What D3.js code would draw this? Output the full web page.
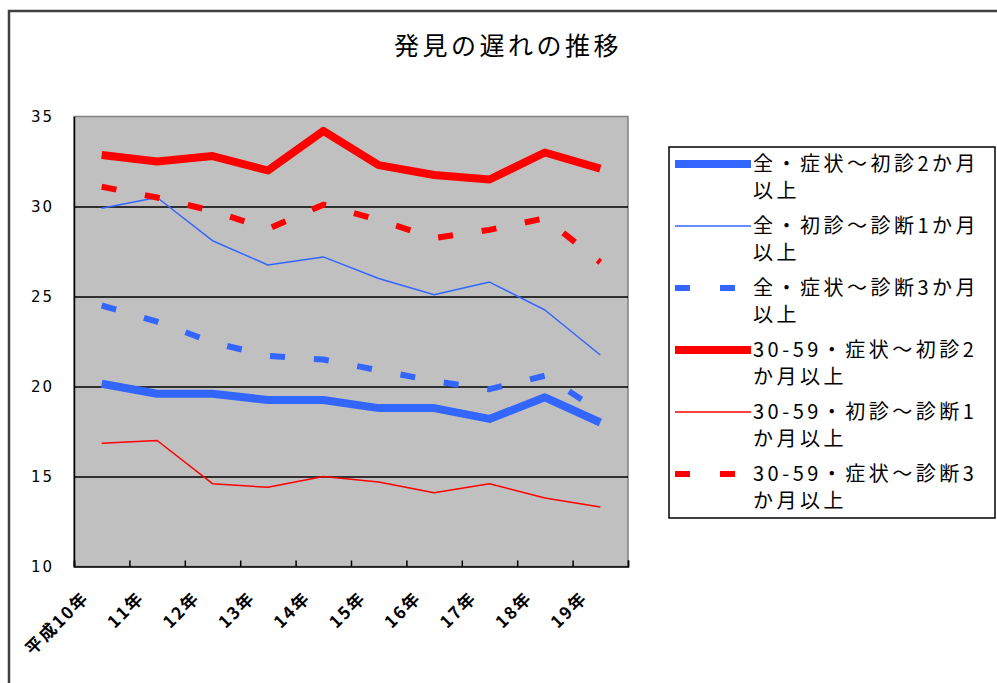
<!DOCTYPE html>
<html>
<head>
<meta charset="utf-8">
<script src="https://cdn.jsdelivr.net/npm/d3@7"></script>
<style>
  html, body { margin: 0; padding: 0; background: #fff; }
  svg { display: block; }
  text { font-family: "Noto Sans CJK JP", "Noto Sans", sans-serif; fill: #000; }
</style>
</head>
<body>
<svg id="chart" width="997" height="683"></svg>
<script>
// ---- data ----
const title = "発見の遅れの推移";
const categories = ["平成10年", "11年", "12年", "13年", "14年", "15年", "16年", "17年", "18年", "19年"];
const yTicks = [10, 15, 20, 25, 30, 35];
const gridValues = [15, 20, 25, 30];

const seriesNames = [
  "全・症状～初診2か月以上",
  "全・初診～診断1か月以上",
  "全・症状～診断3か月以上",
  "30-59・症状～初診2か月以上",
  "30-59・初診～診断1か月以上",
  "30-59・症状～診断3か月以上"
];
const legendLines = [
  ["全・症状～初診2か月", "以上"],
  ["全・初診～診断1か月", "以上"],
  ["全・症状～診断3か月", "以上"],
  ["30-59・症状～初診2", "か月以上"],
  ["30-59・初診～診断1", "か月以上"],
  ["30-59・症状～診断3", "か月以上"]
];
const allSymptomToVisit2m   = [20.15, 19.6, 19.6, 19.25, 19.25, 18.8, 18.8, 18.2, 19.4, 18.0];
const allVisitToDiag1m      = [29.9, 30.5, 28.1, 26.75, 27.2, 26.0, 25.1, 25.8, 24.25, 21.75];
const allSymptomToDiag3m    = [24.5, 23.6, 22.45, 21.7, 21.5, 20.9, 20.3, 19.85, 20.6, 18.6];
const age3059SymptomToVisit2m = [32.86, 32.5, 32.8, 32.0, 34.2, 32.3, 31.75, 31.5, 33.0, 32.1];
const age3059VisitToDiag1m    = [16.85, 17.0, 14.6, 14.4, 15.0, 14.7, 14.1, 14.6, 13.8, 13.3];
const age3059SymptomToDiag3m  = [31.1, 30.5, 29.75, 28.75, 30.1, 29.25, 28.25, 28.7, 29.35, 26.9];

const seriesValues = [
  allSymptomToVisit2m, allVisitToDiag1m, allSymptomToDiag3m,
  age3059SymptomToVisit2m, age3059VisitToDiag1m, age3059SymptomToDiag3m
];

// ---- styles ----
const BLUE = "#3366ff", RED = "#ff0000";
const styles = [
  { color: BLUE, width: 8, dash: null },
  { color: BLUE, width: 1.5, dash: null },
  { color: BLUE, width: 6, dash: "15,29" },
  { color: RED, width: 8, dash: null },
  { color: RED, width: 1.5, dash: null },
  { color: RED, width: 6, dash: "15,29" }
];

const svg = d3.select("#chart");

// outer frame
svg.append("rect").attr("x", 9).attr("y", 11).attr("width", 1000).attr("height", 700)
  .attr("fill", "#fff").attr("stroke", "#404040").attr("stroke-width", 2.5);

// title
svg.append("text").attr("x", 508).attr("y", 55).attr("text-anchor", "middle")
  .style("font-size", "25px").style("letter-spacing", "3.5px").text(title);

const plot = { left: 74, right: 628, top: 116.5, bottom: 566.5 };
const x = d3.scaleBand().domain(categories).range([plot.left, plot.right]).padding(0);
const xi = d3.scaleLinear().domain([0, categories.length]).range([plot.left, plot.right]);
const y = d3.scaleLinear().domain([10, 35]).range([plot.bottom, plot.top]);
const px = c => x(c) + x.bandwidth() / 2;

// plot background
svg.append("rect").attr("x", plot.left).attr("y", plot.top)
  .attr("width", plot.right - plot.left).attr("height", plot.bottom - plot.top)
  .attr("fill", "#c0c0c0").attr("stroke", "#808080").attr("stroke-width", 1.5);

// gridlines
const grid = svg.append("g").attr("transform", `translate(${plot.left},0)`)
  .call(d3.axisRight(y).tickValues(gridValues).tickSize(plot.right - plot.left).tickFormat(""));
grid.select(".domain").remove();
grid.selectAll("line").attr("stroke", "#000").attr("stroke-width", 1.5);

// y axis
const yAxis = svg.append("g").attr("transform", `translate(${plot.left},0)`)
  .call(d3.axisLeft(y).tickValues(yTicks).tickSize(0).tickPadding(20));
yAxis.select(".domain").attr("stroke", "#000").attr("stroke-width", 1.5);
yAxis.selectAll("text").style("font-size", "15px").style("letter-spacing", "2px")
  .style("font-family", "'DejaVu Sans', sans-serif");

// x axis ticks (category boundaries)
const xTicks = svg.append("g").attr("transform", `translate(0,${plot.bottom})`)
  .call(d3.axisBottom(xi).ticks(categories.length).tickSize(-6).tickFormat(""));
xTicks.select(".domain").attr("stroke", "#000").attr("stroke-width", 1.5);
xTicks.selectAll("line").attr("stroke", "#000").attr("stroke-width", 1.5);

// x axis labels
const xLab = svg.append("g").attr("transform", `translate(0,${plot.bottom})`)
  .call(d3.axisBottom(x).tickSize(0));
xLab.select(".domain").remove();
xLab.selectAll("text")
  .attr("x", 0).attr("y", 0).attr("dy", "0.35em")
  .attr("transform", "translate(-16,28) rotate(-45)")
  .style("text-anchor", "end").style("font-size", "17px").style("font-weight", "bold")
  .style("letter-spacing", "2px");

// lines
const line = d3.line().x((d, i) => px(categories[i])).y(d => y(d));
const drawOrder = [4, 1, 2, 5, 0, 3];
drawOrder.forEach(k => {
  const st = styles[k];
  svg.append("path").datum(seriesValues[k])
    .attr("d", line).attr("fill", "none")
    .attr("stroke", st.color).attr("stroke-width", st.width)
    .attr("stroke-linejoin", "round").attr("stroke-linecap", "butt")
    .attr("stroke-dasharray", st.dash);
});

// legend
const lg = { x: 669, y: 147, w: 326, h: 371 };
svg.append("rect").attr("x", lg.x).attr("y", lg.y).attr("width", lg.w).attr("height", lg.h)
  .attr("fill", "#fff").attr("stroke", "#000").attr("stroke-width", 1.5);
seriesNames.forEach((name, k) => {
  const cy = 164 + k * 62;
  const st = styles[k];
  svg.append("line").attr("x1", 675).attr("x2", 751).attr("y1", cy).attr("y2", cy)
    .attr("stroke", st.color).attr("stroke-width", st.width)
    .attr("stroke-dasharray", st.dash ? "15,30" : null);
  const t = svg.append("text").attr("x", 753).attr("y", cy)
    .style("font-size", "20px").style("letter-spacing", "3.5px");
  legendLines[k].forEach((ln, j) => {
    t.append("tspan").attr("x", 753).attr("y", cy + j * 27).attr("dy", "0.36em").text(ln);
  });
});
</script>
</body>
</html>
